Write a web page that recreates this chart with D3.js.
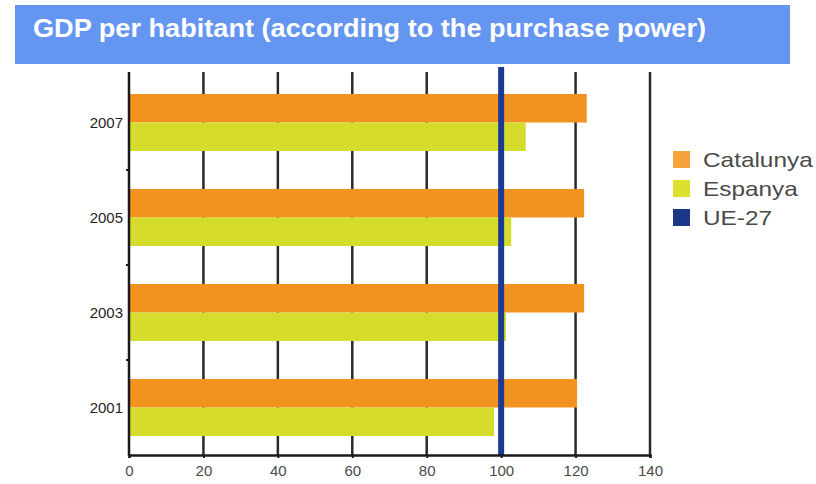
<!DOCTYPE html>
<html>
<head>
<meta charset="utf-8">
<script src="https://cdn.jsdelivr.net/npm/d3@7"></script>
<style>
  html, body { margin: 0; padding: 0; background: #ffffff; }
  svg { display: block; font-family: Arial, "Liberation Sans", Helvetica, sans-serif; }
</style>
</head>
<body>
<svg id="chart" width="816" height="484"></svg>
<script>
// GDP per inhabitant in purchasing power parity, index UE-27 = 100
const years = ["2007", "2005", "2003", "2001"];
const catalunya = [123, 122.3, 122.3, 120.4];
const espanya = [106.6, 102.7, 101.3, 98.1];
const ue27 = 100;
const xTicks = [0, 20, 40, 60, 80, 100, 120, 140];
const seriesNames = ["Catalunya", "Espanya", "UE-27"];
const seriesColors = ["#f29320", "#d6dc2c", "#1b3a96"];
const legendColors = ["#f5a33a", "#dde02e", "#1c3888"];
const title = "GDP per habitant (according to the purchase power)";

const svg = d3.select("#chart");

// title banner
svg.append("rect")
  .attr("x", 15).attr("y", 5).attr("width", 775).attr("height", 59)
  .attr("fill", "#6495f1");
svg.append("text")
  .attr("x", 33).attr("y", 37)
  .attr("fill", "#ffffff")
  .attr("font-size", 25)
  .attr("font-weight", "bold")
  .attr("textLength", 673)
  .attr("lengthAdjust", "spacingAndGlyphs")
  .text(title);

const x = d3.scaleLinear().domain([0, 140]).range([129, 650]);
const y = d3.scaleBand().domain(years).range([75, 455])
  .paddingInner(0.4).paddingOuter(0.2);
const gridTop = 72;
const bottom = 455;

// vertical gridlines
svg.append("g").selectAll("line")
  .data(xTicks.slice(1))
  .join("line")
  .attr("x1", d => x(d)).attr("x2", d => x(d))
  .attr("y1", gridTop).attr("y2", bottom)
  .attr("stroke", "#2a2a2a").attr("stroke-width", 2.5);

// bars
const half = y.bandwidth() / 2;
const rows = years.map((yr, i) => ({ yr, cat: catalunya[i], esp: espanya[i] }));
const g = svg.append("g");
g.selectAll("rect.cat").data(rows).join("rect")
  .attr("class", "cat")
  .attr("x", x(0)).attr("y", d => y(d.yr))
  .attr("width", d => x(d.cat) - x(0)).attr("height", half)
  .attr("fill", seriesColors[0]);
g.selectAll("rect.esp").data(rows).join("rect")
  .attr("class", "esp")
  .attr("x", x(0)).attr("y", d => y(d.yr) + half)
  .attr("width", d => x(d.esp) - x(0)).attr("height", half)
  .attr("fill", seriesColors[1]);

// UE-27 reference line
svg.append("line")
  .attr("x1", x(ue27)).attr("x2", x(ue27))
  .attr("y1", 67).attr("y2", bottom)
  .attr("stroke", seriesColors[2]).attr("stroke-width", 6);

// bottom axis
const xAxis = d3.axisBottom(x).tickValues(xTicks).tickSize(3).tickPadding(7)
  .tickFormat(d3.format("d"));
const gx = svg.append("g").attr("transform", `translate(0,${bottom})`).call(xAxis);
gx.select(".domain").attr("stroke", "#1a1a1a").attr("stroke-width", 2.5);
gx.selectAll(".tick line").attr("stroke", "#1a1a1a").attr("stroke-width", 2);
gx.selectAll(".tick text").attr("font-size", 15).attr("fill", "#4a4a4a")
  .attr("font-family", "Arial, 'Liberation Sans', sans-serif");

// left axis with ticks at band boundaries
const boundaries = years.slice(1).map(yr => y(yr) - y.step() * y.paddingInner() / 2);
svg.append("line")
  .attr("x1", x(0)).attr("x2", x(0)).attr("y1", gridTop).attr("y2", bottom + 1)
  .attr("stroke", "#1a1a1a").attr("stroke-width", 2.5);
svg.append("g").selectAll("line").data(boundaries).join("line")
  .attr("x1", x(0) - 3).attr("x2", x(0))
  .attr("y1", d => d).attr("y2", d => d)
  .attr("stroke", "#1a1a1a").attr("stroke-width", 2);
svg.append("g").selectAll("text").data(years).join("text")
  .attr("x", 123).attr("y", d => y(d) + half)
  .attr("dy", "0.36em")
  .attr("text-anchor", "end")
  .attr("font-size", 15)
  .attr("fill", "#1f1f1f")
  .text(d => d);

// legend (labels set slightly wide)
const legend = svg.append("g");
seriesNames.forEach((name, i) => {
  legend.append("rect")
    .attr("x", 673).attr("y", 151 + i * 29)
    .attr("width", 17).attr("height", 17)
    .attr("fill", legendColors[i]);
  const t = legend.append("text")
    .attr("x", 703).attr("y", 167 + i * 29)
    .attr("font-size", 21)
    .attr("fill", "#4a4a4a")
    .text(name);
  const w = t.node().getComputedTextLength();
  t.attr("textLength", w * 1.16).attr("lengthAdjust", "spacingAndGlyphs");
});
</script>
</body>
</html>
